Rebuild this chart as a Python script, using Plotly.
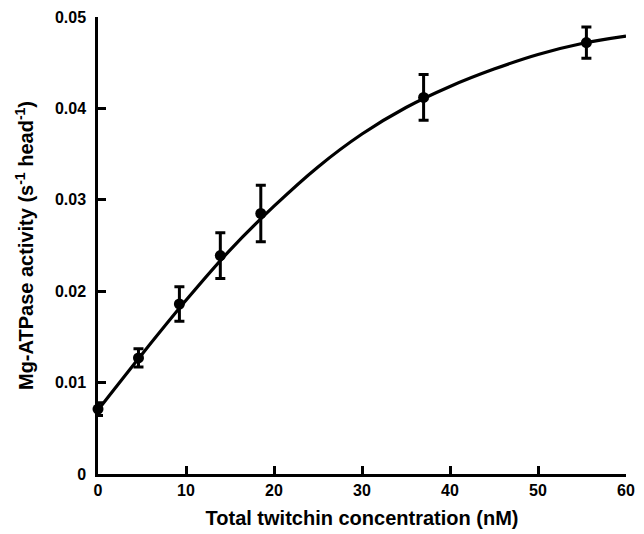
import plotly.graph_objects as go

# Measured data
conc_nM = [0, 4.6, 9.25, 13.9, 18.5, 37, 55.5]
activity = [0.0071, 0.0127, 0.0186, 0.0239, 0.0285, 0.0412, 0.0472]
activity_err = [0.0007, 0.0010, 0.0019, 0.0025, 0.0031, 0.0025, 0.0017]

# Fitted curve
fit_x = [0, 5, 10, 15, 20, 25, 30, 35, 40, 45, 50, 55, 60]
fit_y = [0.0070, 0.0131, 0.0190, 0.0245, 0.0293, 0.0336, 0.0372, 0.0401, 0.0424, 0.0443, 0.0459, 0.0471, 0.0479]

y_ticks = [0, 0.01, 0.02, 0.03, 0.04, 0.05]
y_ticktext = ["0", "0.01", "0.02", "0.03", "0.04", "0.05"]
x_ticks = [0, 10, 20, 30, 40, 50, 60]

font = "Liberation Sans, Arial, sans-serif"

fig = go.Figure()
fig.add_trace(go.Scatter(
    x=fit_x, y=fit_y, mode="lines",
    line=dict(color="black", width=3.2, shape="spline"),
    cliponaxis=False, hoverinfo="skip",
))
fig.add_trace(go.Scatter(
    x=conc_nM, y=activity, mode="markers",
    marker=dict(color="black", size=11),
    error_y=dict(type="data", array=activity_err, color="black", thickness=3, width=5),
    cliponaxis=False,
))

# page body has an 8px default margin, so the figure is sized/offset to compensate
fig.update_layout(
    width=636, height=526,
    margin=dict(l=90, r=18, t=9, b=60),
    paper_bgcolor="white", plot_bgcolor="white",
    showlegend=False,
    font=dict(family=font, color="black"),
)
fig.update_xaxes(
    range=[0, 60], tickvals=x_ticks, automargin=False,
    showgrid=False, zeroline=False,
    showline=True, linecolor="black", linewidth=2.5,
    ticks="inside", ticklen=8, tickwidth=2.5, tickcolor="black",
    tickfont=dict(family=font, size=16, weight="bold", color="black"),
    title=dict(text="Total twitchin concentration (nM)",
               font=dict(family=font, size=20, weight="bold", color="black"),
               standoff=14),
)
fig.update_yaxes(
    range=[0, 0.05], tickvals=y_ticks, ticktext=y_ticktext, automargin=False,
    showgrid=False, zeroline=False,
    showline=True, linecolor="black", linewidth=2.5,
    ticks="inside", ticklen=8, tickwidth=2.5, tickcolor="black",
    ticklabelstandoff=6,
    tickfont=dict(family=font, size=16, weight="bold", color="black"),
    title=dict(text="Mg-ATPase activity (s<sup>-1</sup> head<sup>-1</sup>)",
               font=dict(family=font, size=20, weight="bold", color="black"),
               standoff=16),
)

fig.write_html("out.html")
